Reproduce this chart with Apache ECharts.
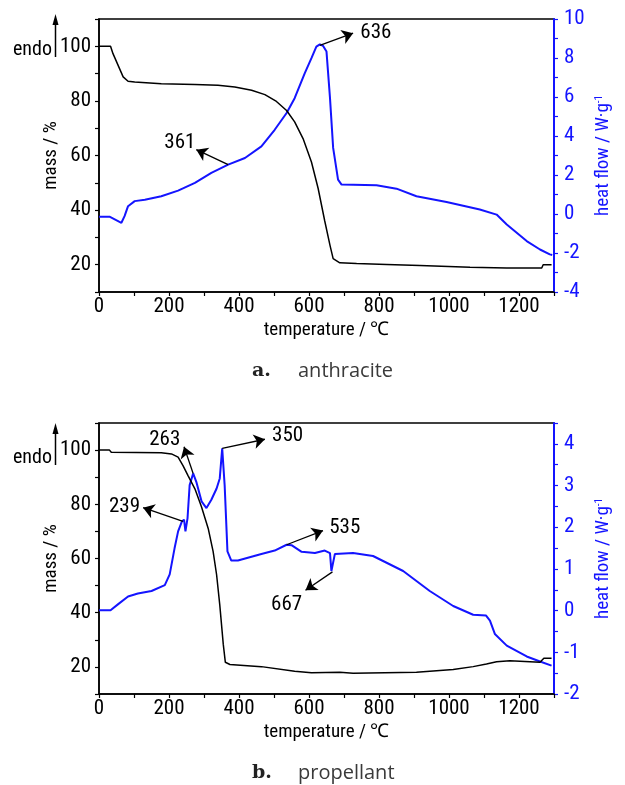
<!DOCTYPE html>
<html>
<head>
<meta charset="utf-8">
<script src="https://cdn.jsdelivr.net/npm/echarts@6/dist/echarts.min.js"></script>
<style>
html, body { margin: 0; padding: 0; background: #fff; }
#main { width: 625px; height: 785px; }
</style>
</head>
<body>
<div id="main"></div>
<script>
// a. anthracite
var aMassT = [0, 33, 40, 69, 83, 102, 178, 274, 340, 388, 436, 474, 507, 536, 559, 583, 607, 626, 645, 660, 669, 688, 736, 822, 917, 1060, 1165, 1265, 1269, 1293];
var aMass = [100, 100, 97.3, 88.8, 87.2, 86.9, 86.3, 86.0, 85.7, 85.1, 83.9, 82.3, 79.8, 76.5, 72.3, 66.2, 57.6, 48, 36, 27.1, 22.2, 20.7, 20.4, 20.1, 19.7, 19.1, 18.8, 18.8, 20.0, 20.0];
var aHeatT = [0, 30, 64, 73, 83, 102, 131, 178, 226, 274, 321, 369, 417, 464, 502, 536, 559, 588, 607, 621, 631, 640, 650, 660, 669, 683, 693, 793, 850, 907, 993, 1088, 1136, 1165, 1222, 1260, 1288, 1295];
var aHeat = [-0.14, -0.14, -0.45, -0.11, 0.40, 0.66, 0.73, 0.91, 1.20, 1.60, 2.11, 2.53, 2.87, 3.47, 4.32, 5.18, 5.94, 7.22, 7.99, 8.58, 8.70, 8.63, 8.33, 5.94, 3.39, 1.76, 1.51, 1.47, 1.30, 0.91, 0.62, 0.23, -0.03, -0.54, -1.39, -1.82, -2.07, -2.10];
var aNoteText = ['361', '636'];
var aNoteAt = [[231, 3.64], [791, 9.32]];
var aArrowFrom = [[369, 2.53], [631, 8.65]];
var aArrowTo = [[278, 3.30], [726, 9.27]];

// b. propellant
var bMassT = [0, 30, 35, 178, 207, 226, 240, 254, 274, 293, 312, 326, 336, 345, 355, 361, 374, 464, 559, 607, 688, 726, 907, 1012, 1069, 1107, 1136, 1174, 1260, 1271, 1293];
var bMass = [100, 100, 99.2, 99.0, 98.6, 97.4, 94.3, 90.7, 85.7, 79.0, 71.1, 62.6, 54.0, 43.0, 28.4, 21.7, 20.9, 20.1, 18.4, 17.8, 18.0, 17.7, 18.0, 19.0, 20.1, 21.1, 21.9, 22.3, 21.7, 23.2, 23.2];
var bHeatT = [0, 33, 54, 83, 111, 150, 188, 202, 216, 226, 237, 243, 247, 253, 259, 269, 278, 293, 307, 321, 336, 345, 352, 359, 367, 378, 397, 464, 502, 536, 550, 579, 617, 645, 660, 664, 668, 674, 726, 783, 869, 945, 1012, 1069, 1106, 1117, 1131, 1165, 1222, 1260, 1293];
var bHeat = [0.01, 0.01, 0.15, 0.34, 0.41, 0.47, 0.61, 0.87, 1.50, 1.90, 2.14, 2.18, 1.90, 2.22, 3.01, 3.29, 3.09, 2.62, 2.46, 2.66, 2.93, 3.17, 3.89, 3.01, 1.42, 1.20, 1.20, 1.36, 1.44, 1.58, 1.57, 1.41, 1.38, 1.44, 1.38, 0.95, 0.95, 1.36, 1.38, 1.31, 0.95, 0.47, 0.11, -0.10, -0.12, -0.24, -0.56, -0.84, -1.10, -1.22, -1.32];
var bNoteText = ['239', '263', '350', '535', '667'];
var bNoteAt = [[73, 2.50], [188, 4.09], [539, 4.19], [702, 1.98], [536, 0.15]];
var bArrowFrom = [[240, 2.14], [269, 3.29], [352, 3.89], [536, 1.58], [667, 0.93]];
var bArrowTo = [[126, 2.47], [243, 3.93], [474, 4.11], [640, 1.92], [590, 0.49]];

var FONT = "'Roboto Condensed', 'Liberation Sans', sans-serif";
var BLUE = '#1414ff';

function zip(xs, ys) {
	var out = [];
	for (var i = 0; i < xs.length; i++) out.push([xs[i], ys[i]]);
	return out;
}

function arrows(from, to) {
	var d = [];
	for (var i = 0; i < from.length; i++) d.push([{coord: from[i]}, {coord: to[i]}]);
	return d;
}

function notes(texts, at) {
	var d = [];
	for (var i = 0; i < texts.length; i++) d.push({name: texts[i], coord: at[i]});
	return d;
}

function xAxisOf(idx) {
	return {
		type: 'value', gridIndex: idx, min: 0, max: 1300, interval: 100,
		name: 'temperature / ℃', nameLocation: 'middle', nameGap: 29, nameMoveOverlap: false,
		nameTextStyle: {fontFamily: FONT, fontSize: 19, color: '#000'},
		axisLine: {onZero: false, lineStyle: {color: '#000', width: 1.5}},
		axisTick: {length: 4, lineStyle: {color: '#000', width: 1.2}},
		axisLabel: {
			margin: 4, fontFamily: FONT, fontSize: 21, color: '#000',
			formatter: function (v) { return v % 200 === 0 ? String(v) : ''; }
		},
		splitLine: {show: false}
	};
}

function massAxisOf(idx) {
	return {
		type: 'value', gridIndex: idx, position: 'left', min: 10, max: 110, interval: 10,
		name: 'mass / %', nameLocation: 'middle', nameGap: 38, nameMoveOverlap: false,
		nameTextStyle: {fontFamily: FONT, fontSize: 19, color: '#000'},
		axisLine: {show: true, onZero: false, lineStyle: {color: '#000', width: 1.5}},
		axisTick: {length: 4, lineStyle: {color: '#000', width: 1.2}},
		axisLabel: {
			margin: 8, fontFamily: FONT, fontSize: 21, color: '#000',
			formatter: function (v) { return (v % 20 === 0 && v >= 20 && v <= 100) ? String(v) : ''; }
		},
		splitLine: {show: false}
	};
}

function heatAxisOf(idx, min, max, step, keep) {
	return {
		type: 'value', gridIndex: idx, position: 'right', min: min, max: max, interval: step,
		name: 'heat flow / W·g{sup|-1}', nameLocation: 'middle', nameGap: 40, nameMoveOverlap: false,
		nameTextStyle: {
			fontFamily: FONT, fontSize: 19, color: BLUE,
			rich: {sup: {fontFamily: FONT, fontSize: 11, color: BLUE, verticalAlign: 'top', padding: [0, 0, 8, 0]}}
		},
		axisLine: {show: true, onZero: false, lineStyle: {color: BLUE, width: 2}},
		axisTick: {length: 4, lineStyle: {color: BLUE, width: 1.2}},
		axisLabel: {
			margin: 10, fontFamily: FONT, fontSize: 21, color: BLUE,
			formatter: function (v) { return keep(v) ? String(v) : ''; }
		},
		splitLine: {show: false}
	};
}

function heatSeries(xi, yi, data, texts, at, from, to) {
	return {
		type: 'line', xAxisIndex: xi, yAxisIndex: yi, data: data,
		showSymbol: false, symbol: 'none',
		lineStyle: {color: BLUE, width: 2}, itemStyle: {color: BLUE},
		markLine: {
			silent: true, symbol: ['none', 'arrow'], symbolSize: 11,
			lineStyle: {color: '#000', width: 1.3, type: 'solid'},
			label: {show: false},
			data: arrows(from, to)
		},
		markPoint: {
			silent: true, symbol: 'circle', symbolSize: 1,
			itemStyle: {color: 'rgba(0,0,0,0)'},
			label: {show: true, position: 'inside', formatter: '{b}', fontFamily: FONT, fontSize: 21, color: '#000'},
			data: notes(texts, at)
		}
	};
}

function massSeries(xi, yi, data) {
	return {
		type: 'line', xAxisIndex: xi, yAxisIndex: yi, data: data,
		showSymbol: false, symbol: 'none',
		lineStyle: {color: '#000', width: 1.5}, itemStyle: {color: '#000'}
	};
}

function endoMark(textY, tipY, baseY) {
	return [
		{type: 'text', x: 52, y: textY, style: {text: 'endo', align: 'right', verticalAlign: 'middle', font: '20px ' + FONT, fill: '#000'}},
		{type: 'line', shape: {x1: 55.5, y1: baseY, x2: 55.5, y2: tipY + 8}, style: {stroke: '#000', lineWidth: 1.5}},
		{type: 'polygon', shape: {points: [[55.5, tipY], [52.5, tipY + 11], [58.5, tipY + 11]]}, style: {fill: '#000'}}
	];
}

function caption(y, tag, word) {
	return [
		{type: 'text', x: 252, y: y, style: {text: tag, verticalAlign: 'middle', font: 'bold 19px "DejaVu Serif", serif', fill: '#222'}},
		{type: 'text', x: 298, y: y, style: {text: word, verticalAlign: 'middle', font: '20px "Open Sans", sans-serif', fill: '#3a3a3a'}}
	];
}

var myChart = echarts.init(document.getElementById('main'));
var option = {
	animation: false,
	backgroundColor: '#fff',
	grid: [
		{left: 99, top: 19, right: 71, height: 273, show: true, borderColor: '#000', borderWidth: 1.5},
		{left: 99, top: 423, right: 71, height: 271, show: true, borderColor: '#000', borderWidth: 1.5}
	],
	xAxis: [xAxisOf(0), xAxisOf(1)],
	yAxis: [
		massAxisOf(0),
		heatAxisOf(0, -4, 10, 1, function (v) { return v % 2 === 0; }),
		massAxisOf(1),
		heatAxisOf(1, -2, 4.5, 0.5, function (v) { return Number.isInteger(v); })
	],
	series: [
		heatSeries(0, 1, zip(aHeatT, aHeat), aNoteText, aNoteAt, aArrowFrom, aArrowTo),
		massSeries(0, 0, zip(aMassT, aMass)),
		heatSeries(1, 3, zip(bHeatT, bHeat), bNoteText, bNoteAt, bArrowFrom, bArrowTo),
		massSeries(1, 2, zip(bMassT, bMass))
	],
	graphic: [].concat(
		endoMark(50, 14, 57),
		endoMark(458, 423, 465),
		caption(371, 'a.', 'anthracite'),
		caption(773, 'b.', 'propellant')
	)
};
myChart.setOption(option);
</script>
</body>
</html>
